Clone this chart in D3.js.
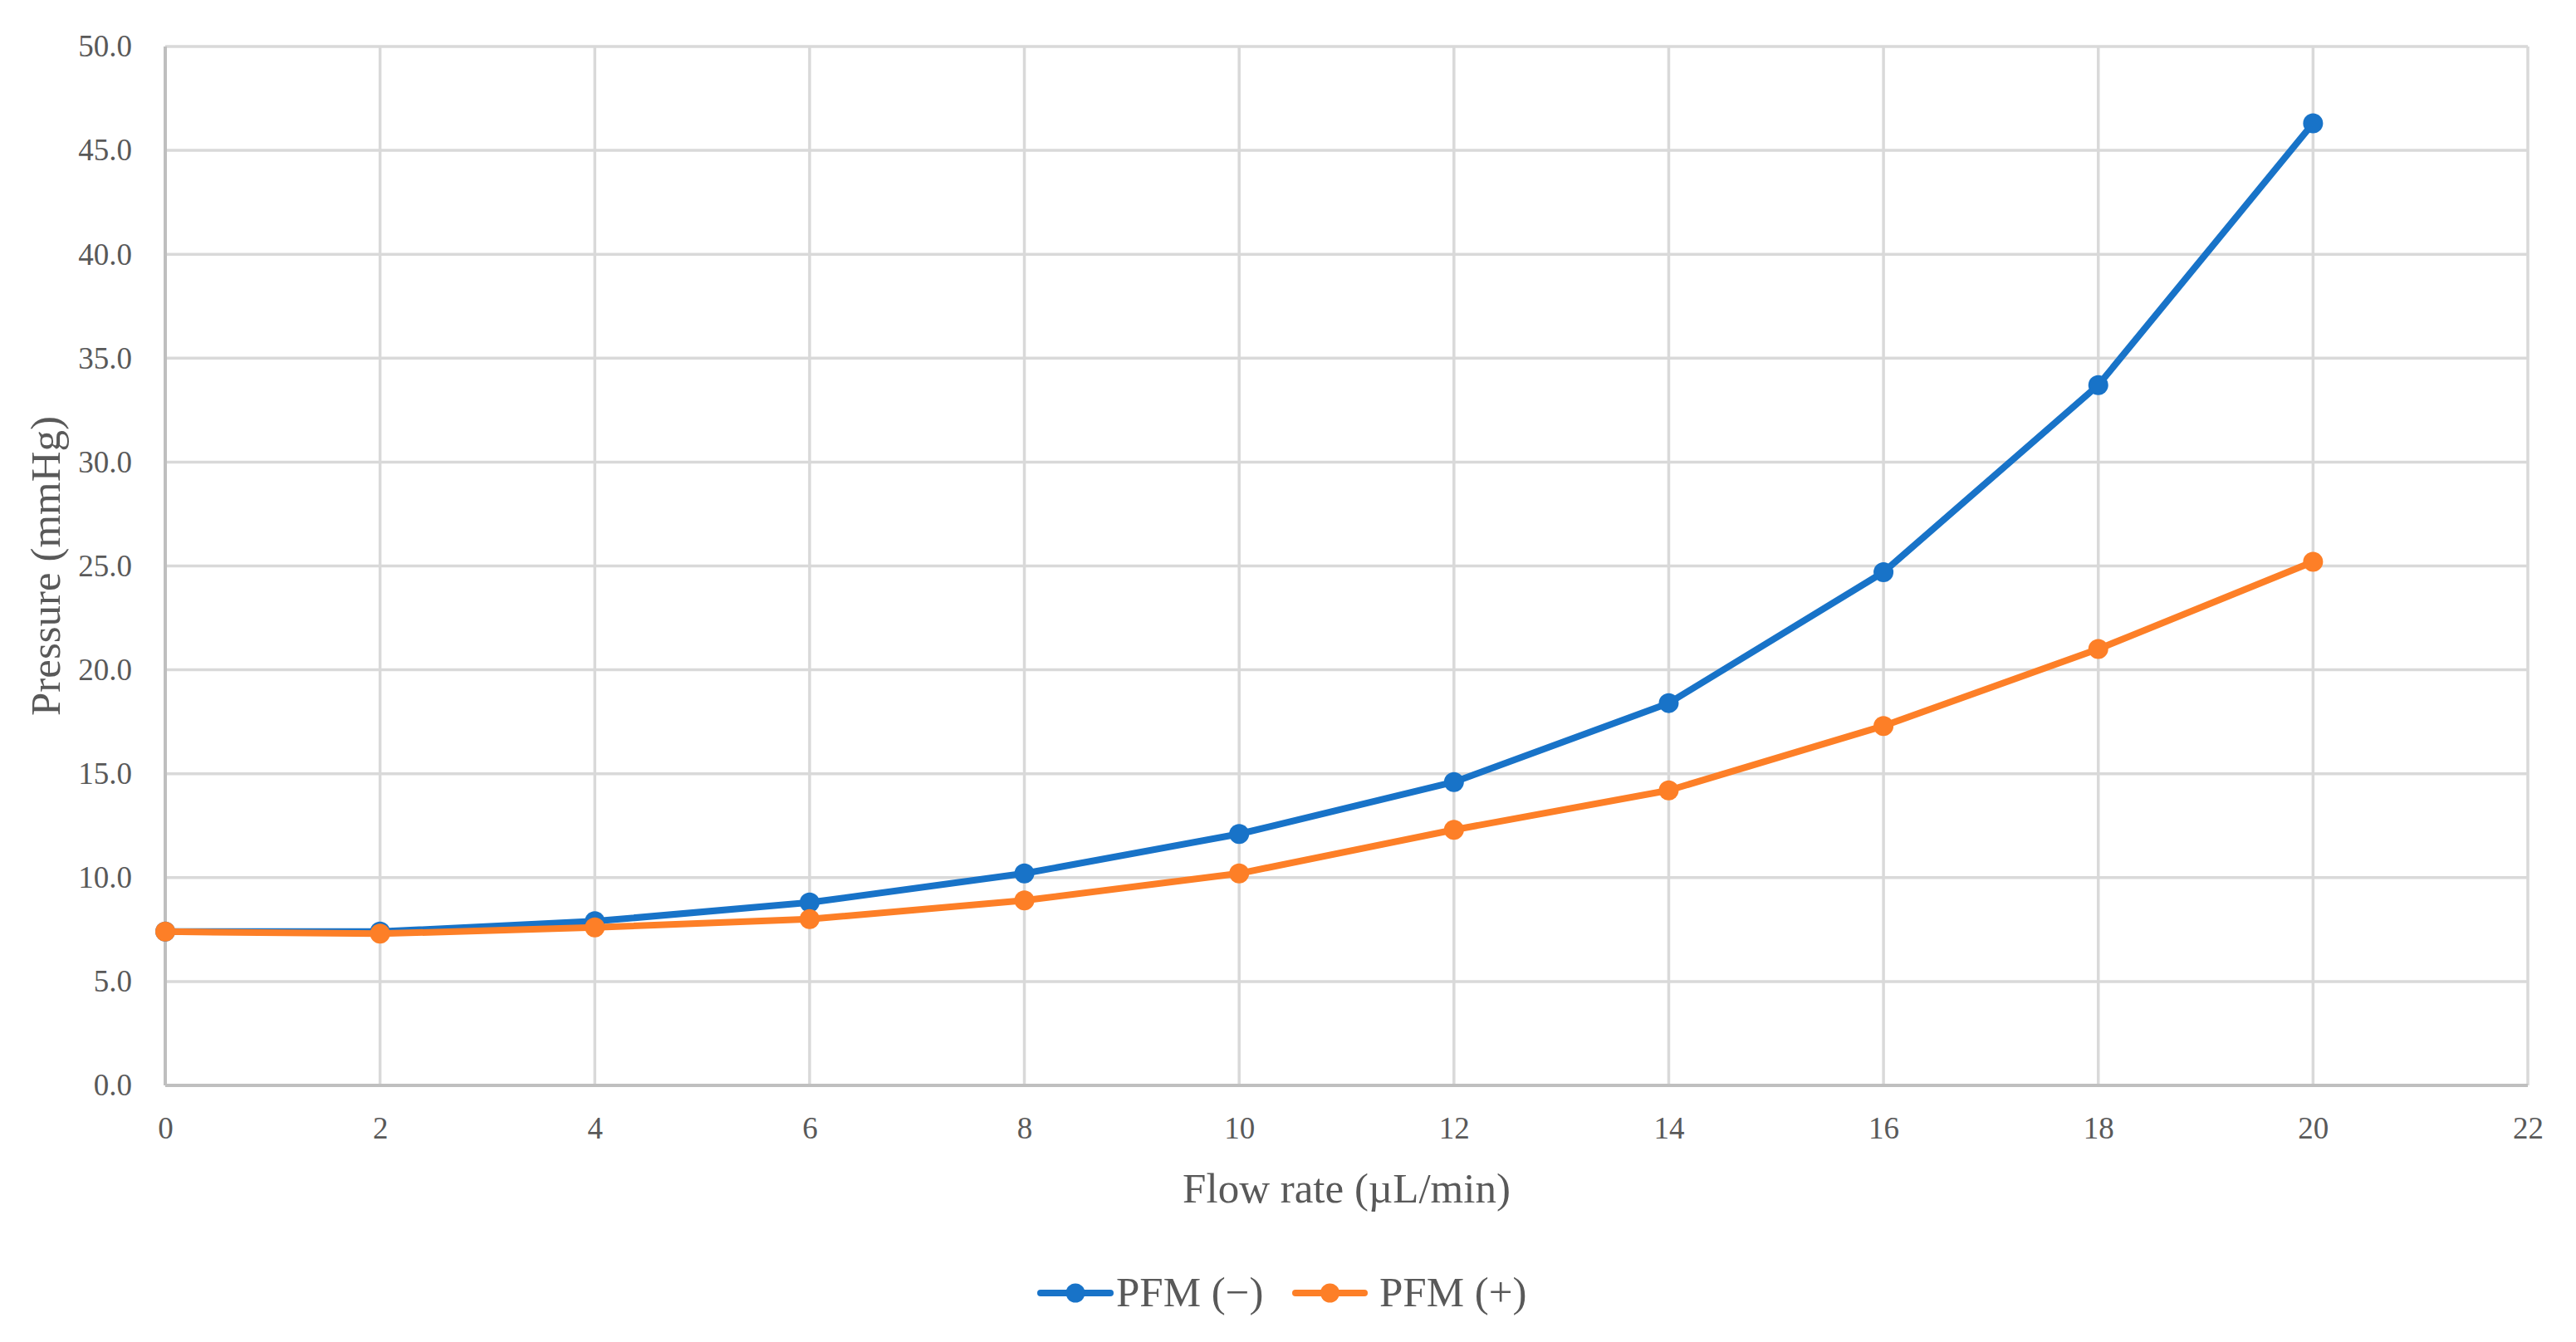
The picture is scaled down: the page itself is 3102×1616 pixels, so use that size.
<!DOCTYPE html>
<html>
<head>
<meta charset="utf-8">
<script src="https://cdn.jsdelivr.net/npm/d3@7"></script>
<style>
  html, body { margin: 0; padding: 0; background: #fff; }
  svg { display: block; }
</style>
</head>
<body>
<svg id="chart" width="3102" height="1616"></svg>
<script>
// ---- Data ----
const flowRates = [0, 2, 4, 6, 8, 10, 12, 14, 16, 18, 20];
const pfmMinus  = [7.4, 7.4, 7.9, 8.8, 10.2, 12.1, 14.6, 18.4, 24.7, 33.7, 46.3];
const pfmPlus   = [7.4, 7.3, 7.6, 8.0, 8.9, 10.2, 12.3, 14.2, 17.3, 21.0, 25.2];
const seriesNames = ["PFM (\u2212)", "PFM (+)"];
const xTicks = [0, 2, 4, 6, 8, 10, 12, 14, 16, 18, 20, 22];
const yTicks = [0, 5, 10, 15, 20, 25, 30, 35, 40, 45, 50];
const xTitle = "Flow rate (\u00B5L/min)";
const yTitle = "Pressure (mmHg)";

// ---- Layout ----
const W = 3102, H = 1616;
const plot = { left: 199, right: 3044, top: 56, bottom: 1307 };
const colors = ["#1873c8", "#fd7f27"];
const font = "'Liberation Serif', 'Times New Roman', serif";
const textColor = "#595959";

const svg = d3.select("#chart");
const x = d3.scaleLinear().domain([0, 22]).range([plot.left, plot.right]);
const y = d3.scaleLinear().domain([0, 50]).range([plot.bottom, plot.top]);

// gridlines
const grid = svg.append("g");
grid.selectAll("line.v").data(xTicks.filter(d => d > 0)).join("line")
  .attr("x1", d => x(d)).attr("x2", d => x(d))
  .attr("y1", plot.top).attr("y2", plot.bottom)
  .attr("stroke", "#d9d9d9").attr("stroke-width", 3.5);
grid.selectAll("line.h").data(yTicks.filter(d => d > 0)).join("line")
  .attr("x1", plot.left).attr("x2", plot.right)
  .attr("y1", d => y(d)).attr("y2", d => y(d))
  .attr("stroke", "#d9d9d9").attr("stroke-width", 3.5);

// axes
const xAxis = d3.axisBottom(x).tickValues(xTicks).tickFormat(d3.format("d")).tickSize(0).tickPadding(38);
const yAxis = d3.axisLeft(y).tickValues(yTicks).tickFormat(d3.format(".1f")).tickSize(0).tickPadding(40);

const gx = svg.append("g").attr("transform", `translate(0,${plot.bottom})`).call(xAxis);
const gy = svg.append("g").attr("transform", `translate(${plot.left},0)`).call(yAxis);
[gx, gy].forEach(g => {
  g.select(".domain").attr("stroke", "#bfbfbf").attr("stroke-width", 4);
  g.selectAll("text").attr("font-family", font).attr("font-size", 37).attr("fill", textColor);
});
gx.select(".domain").attr("d", `M${plot.left},0H${plot.right}`);
gy.select(".domain").attr("d", `M0,${plot.bottom}V${plot.top}`);

// axis titles
svg.append("text")
  .attr("x", (plot.left + plot.right) / 2).attr("y", 1448)
  .attr("text-anchor", "middle")
  .attr("font-family", font).attr("font-size", 51).attr("fill", textColor)
  .text(xTitle);
svg.append("text")
  .attr("transform", `translate(72,${(plot.top + plot.bottom) / 2}) rotate(-90)`)
  .attr("text-anchor", "middle")
  .attr("font-family", font).attr("font-size", 51).attr("fill", textColor)
  .text(yTitle);

// series
const series = [pfmMinus, pfmPlus];
const line = d3.line().x((d, i) => x(flowRates[i])).y(d => y(d));
series.forEach((vals, si) => {
  const g = svg.append("g");
  g.append("path").datum(vals)
    .attr("d", line)
    .attr("fill", "none").attr("stroke", colors[si])
    .attr("stroke-width", 8).attr("stroke-linejoin", "round").attr("stroke-linecap", "round");
  g.selectAll("circle").data(vals).join("circle")
    .attr("cx", (d, i) => x(flowRates[i])).attr("cy", d => y(d))
    .attr("r", 12).attr("fill", colors[si]);
});

// legend
const legendY = 1557;
const legendItems = [
  { x0: 1253, x1: 1337, tx: 1344 },
  { x0: 1560, x1: 1643, tx: 1661 }
];
legendItems.forEach((it, i) => {
  const g = svg.append("g");
  g.append("line").attr("x1", it.x0).attr("x2", it.x1)
    .attr("y1", legendY).attr("y2", legendY)
    .attr("stroke", colors[i]).attr("stroke-width", 8).attr("stroke-linecap", "round");
  g.append("circle").attr("cx", (it.x0 + it.x1) / 2).attr("cy", legendY).attr("r", 11.5).attr("fill", colors[i]);
  g.append("text").attr("x", it.tx).attr("y", 1573)
    .attr("font-family", font).attr("font-size", 51).attr("fill", textColor)
    .text(seriesNames[i]);
});
</script>
</body>
</html>
